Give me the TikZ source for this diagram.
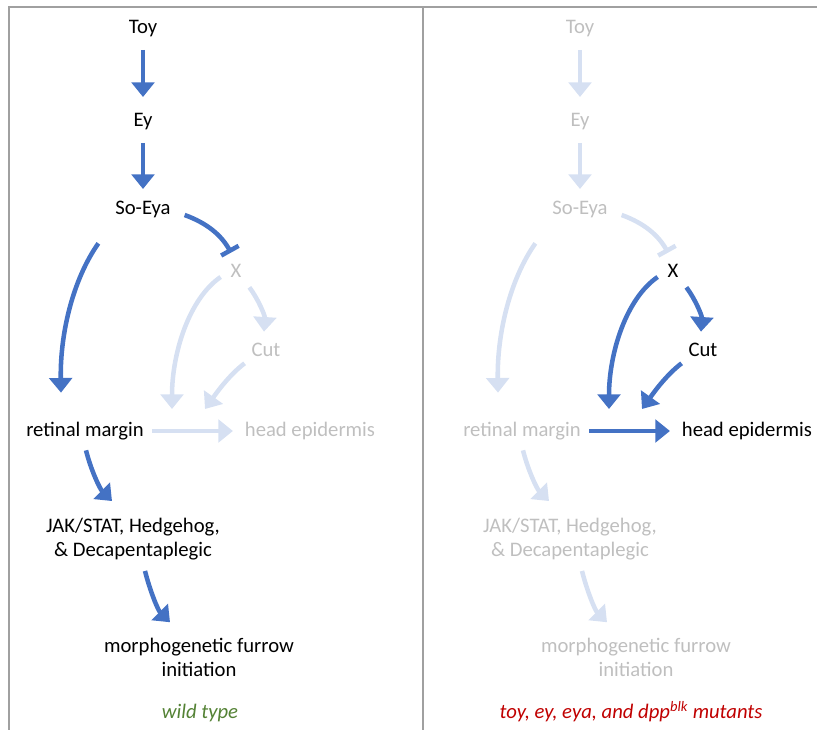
\documentclass[tikz,border=0pt]{standalone}
\usepackage{fontspec}
\setmainfont{Carlito}
\usepackage{xcolor}
\usepackage{tikz}
\usetikzlibrary{arrows.meta,calc}

\definecolor{arrblue}{RGB}{68,114,196}
\definecolor{fadeblue}{RGB}{214,224,242}
\definecolor{fadetext}{RGB}{191,191,191}
\definecolor{framegrey}{RGB}{160,160,160}
\definecolor{wtgreen}{RGB}{84,130,53}
\definecolor{mutred}{RGB}{192,0,0}

\begin{document}
\begin{tikzpicture}[x=0.75pt,y=0.75pt,yscale=-1,xscale=1,
	lbl/.style={inner sep=0pt,outer sep=0pt,text height=11pt,text depth=3pt,font=\fontsize{15.5}{18}\selectfont},
	lbltwo/.style={inner sep=0pt,outer sep=0pt,align=center,font=\fontsize{15.5}{18}\selectfont},
	lnk/.style={line width=3.4pt,-{Triangle[width=17pt,length=11pt]}},
	blocklnk/.style={line width=3.4pt,-{Bar[width=15pt]}}]
	\useasboundingbox (0,0) rectangle (817,730);

	%Frame
	\draw [color=framegrey,line width=1.6pt] (9,730) -- (9,7) -- (817,7) ;
	\draw [color=framegrey,line width=1.6pt] (423,7) -- (423,730) ;

	%Panels: L = wild type, R = mutants
	\foreach \p/\dx/\inkA/\inkB/\arrA/\arrB in {L/0/black/fadetext/arrblue/fadeblue,R/437/fadetext/black/fadeblue/arrblue}{
		% Text Nodes
		\node [lbl,text=\inkA] (toy\p) at (\dx+143,28) {Toy};
		\node [lbl,text=\inkA] (ey\p) at (\dx+143,121) {Ey};
		\node [lbl,text=\inkA] (soeya\p) at (\dx+143,209) {So-Eya};
		\node [lbl,text=\inkB] (x\p) at (\dx+236,272) {X};
		\node [lbl,text=\inkB] (cut\p) at (\dx+266,351) {Cut};
		\node [lbl,text=\inkA] (rm\p) at (\dx+85,431) {retinal margin};
		\node [lbl,text=\inkB] (he\p) at (\dx+310,431) {head epidermis};
		\node [lbltwo,text=\inkA] (jak\p) at (\dx+133,539) {JAK/STAT, Hedgehog,\\\& Decapentaplegic};
		\node [lbltwo,text=\inkA] (mf\p) at (\dx+199,657) {morphogenetic furrow\\initiation};
		\coordinate (hitA\p) at (\dx+172,409);
		\coordinate (hitB\p) at (\dx+205,409);

		% Straight Lines
		\draw [lnk,draw=\arrA,shorten <=9.5pt,shorten >=11pt] (toy\p) -- (ey\p);
		\draw [lnk,draw=\arrA,shorten <=9.5pt,shorten >=8pt] (ey\p) -- (soeya\p);
		\draw [lnk,draw=\arrB,shorten <=6.4pt,shorten >=9pt] (rm\p) -- (he\p);

		% Curves
		\draw [blocklnk,draw=\arrA] ($(soeya\p.east)+(14,6)$) .. controls +(22,8) and +(-10,-18) .. ($(x\p.north)+(-5,-10)$);
		\draw [lnk,draw=\arrA] ($(soeya\p.south west)+(-17,25)$) .. controls +(-26,37) and +(-1,-58) .. ($(rm\p.north)+(-24,-29)$);
		\draw [lnk,draw=\arrA] ($(rm\p.south)+(1,10)$) .. controls +(5,20) and +(-12,-12) .. ($(jak\p.north)+(-21,-17)$);
		\draw [lnk,draw=\arrA] ($(jak\p.south)+(12,11)$) .. controls +(5,20) and +(-12,-12) .. ($(mf\p.north)+(-29,-15.5)$);
		\draw [lnk,draw=\arrB] ($(x\p.south east)+(8,6)$) .. controls +(9,12) and +(1,-16) .. ($(cut\p.north)+(-2,-10)$);
		\draw [lnk,draw=\arrB] ($(x\p.west)+(-10,5)$) .. controls +(-32,22) and +(0,-55) .. (hitA\p);
		\draw [lnk,draw=\arrB] ($(cut\p.south west)+(-7,3)$) .. controls +(-16,12) and +(10,-14) .. (hitB\p);
	}

	% Text Node
	\node [lbl,text=wtgreen] (wt) at (200,713) {\itshape wild type};
	% Text Node
	\node [lbl,text=mutred] (mut) at (631,713) {\itshape toy, ey, eya, and dpp\textsuperscript{blk} mutants};
\end{tikzpicture}
\end{document}
